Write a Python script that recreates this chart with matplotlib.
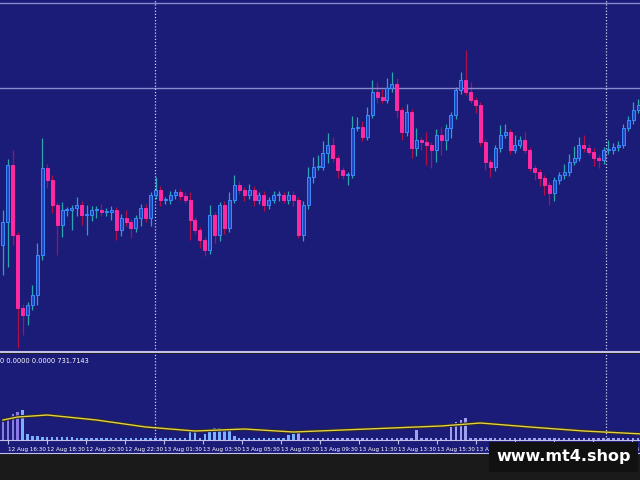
import numpy as np
import matplotlib.pyplot as plt
from matplotlib.patches import Rectangle

# candle data (price units = chart pixels from bottom), open = previous close
first_open = 235
closes = [258, 315, 245, 172, 165, 175, 185, 225, 312, 300, 275, 255, 270, 270, 272, 275, 265,
          265, 270, 270, 268, 268, 270, 250, 262, 258, 252, 262, 272, 262, 285, 290, 280, 280,
          285, 288, 284, 280, 260, 250, 240, 230, 265, 245, 275, 252, 280, 295, 290, 285, 290,
          280, 285, 275, 280, 285, 285, 280, 285, 280, 245, 275, 303, 313, 313, 327, 335, 322,
          310, 305, 305, 352, 353, 343, 365, 388, 383, 380, 392, 396, 370, 348, 368, 332, 340,
          338, 335, 330, 345, 340, 352, 365, 390, 400, 388, 380, 375, 338, 318, 313, 332, 345,
          348, 330, 335, 340, 330, 312, 308, 302, 295, 287, 300, 305, 308, 318, 322, 335, 332,
          328, 322, 320, 330, 330, 333, 335, 352, 360, 370, 375]
upper = [12, 6, 15, 3, 4, 3, 10, 12, 30, 4, 5, 3, 8, 3, 3, 8, 4, 10, 4, 4, 6, 4, 4, 3, 4, 8, 3,
         3, 4, 4, 3, 13, 4, 3, 4, 3, 3, 4, 8, 3, 3, 3, 10, 3, 3, 4, 8, 10, 4, 3, 6, 4, 3, 4, 3,
         4, 4, 3, 4, 4, 3, 4, 10, 10, 12, 12, 12, 8, 3, 3, 3, 12, 10, 6, 8, 12, 10, 8, 10, 12, 6,
         3, 8, 3, 12, 3, 10, 3, 6, 8, 4, 3, 3, 8, 30, 10, 3, 3, 3, 3, 3, 10, 8, 3, 10, 4, 8, 3,
         3, 3, 3, 3, 3, 3, 8, 8, 12, 8, 10, 4, 4, 3, 3, 10, 4, 4, 4, 4, 8, 6, 6, 6]
lower = [30, 45, 10, 40, 20, 10, 5, 10, 5, 8, 8, 30, 12, 6, 20, 8, 10, 20, 6, 8, 4, 4, 8, 10,
         6, 4, 10, 4, 8, 4, 8, 4, 6, 4, 4, 4, 4, 3, 20, 4, 8, 6, 4, 8, 6, 6, 4, 3, 4, 6, 4, 6, 4,
         6, 4, 3, 6, 3, 4, 6, 3, 6, 4, 6, 3, 3, 10, 4, 8, 4, 10, 3, 3, 4, 3, 3, 6, 3, 3, 4, 8, 8,
         4, 10, 8, 8, 20, 18, 12, 15, 10, 10, 4, 4, 3, 3, 8, 4, 8, 10, 4, 4, 3, 4, 3, 3, 3, 3, 8,
         8, 10, 12, 8, 4, 4, 4, 3, 3, 4, 3, 8, 8, 4, 4, 4, 4, 3, 3, 4, 3, 3]
volume = [18, 22, 26, 28, 30, 6, 4, 4, 3, 3, 3, 3, 3, 3, 3, 2, 2, 2, 2, 2, 2, 2, 2, 2, 2, 2, 2,
          2, 2, 2, 2, 2, 2, 2, 2, 2, 2, 2, 8, 8, 2, 6, 10, 12, 12, 10, 10, 4, 2, 2, 2, 2, 2, 2,
          2, 2, 2, 2, 5, 6, 9, 2, 2, 2, 2, 2, 2, 2, 2, 2, 2, 2, 2, 2, 2, 2, 2, 2, 2, 2, 2, 2, 2,
          2, 10, 2, 2, 2, 2, 2, 2, 14, 18, 20, 22, 2, 2, 2, 2, 2, 2, 2, 2, 2, 2, 2, 2, 2, 2, 2, 2,
          2, 2, 2, 2, 2, 2, 2, 2, 2, 2, 2, 2, 2, 2, 2, 2, 2, 2, 2, 2, 2, 2, 2, 2]
ma_idx = [0, 3, 9, 19, 29, 39, 49, 59, 69, 79, 89, 97, 107, 118, 130]
ma_val = [20, 23, 25, 20, 13, 9, 11, 8, 10, 12, 14, 17, 13, 9, 6]
tick_labels = ["12 Aug 16:30", "12 Aug 18:30", "12 Aug 20:30", "12 Aug 22:30", "13 Aug 01:30",
               "13 Aug 03:30", "13 Aug 05:30", "13 Aug 07:30", "13 Aug 09:30", "13 Aug 11:30",
               "13 Aug 13:30", "13 Aug 15:30", "13 Aug 17:30", "13 Aug 19:30", "13 Aug 21:30",
               "13 Aug 23:30", "14"]

BG = "#1b1b78"
n = min(len(closes), len(upper), len(lower), len(volume))
opens = [first_open] + closes[:-1]
N = n
px = N / 640  # candle slots per pixel
tick_idx = [-0.6 + (8 + 39 * k) * px for k in range(len(tick_labels))]
vlines = [-0.6 + 155 * px, -0.6 + 606 * px]

fig = plt.figure(figsize=(6.4, 4.8), dpi=100, facecolor="#1a1a1a")
ax = fig.add_axes([0, 128 / 480, 1, 352 / 480])
ax.set_facecolor(BG)
for i in range(n):
    o, c = opens[i], closes[i]
    hi, lo = max(o, c) + upper[i], min(o, c) - lower[i]
    up = c >= o
    ax.vlines(i, lo, hi, color="#2aa6b0" if up else "#b0104a", lw=0.9)
    h = max(abs(c - o), 1.2)
    ax.add_patch(Rectangle((i - 0.3, min(o, c)), 0.6, h,
                           facecolor="#2346b8" if up else "#ff2aa0",
                           edgecolor="#3a8cff" if up else "#ff2aa0", lw=0.7, zorder=3))
ax.set_xlim(-0.6, N - 0.6)
ax.set_ylim(128, 480)
ax.axhline(392, color="#8a8ad0", lw=1)
ax.axhline(477, color="#8a8ad0", lw=1)
for xv in vlines:
    ax.axvline(xv, color="#d0d0f0", lw=0.9, ls=(0, (1, 1.5)))
ax.set_xticks([]); ax.set_yticks([])
for s in ax.spines.values():
    s.set_visible(False)
ax.spines["bottom"].set_visible(True)
ax.spines["bottom"].set_color("#c0c0e8")
ax.spines["bottom"].set_linewidth(1.5)

sub = fig.add_axes([0, 40 / 480, 1, 86 / 480])
sub.set_facecolor(BG)
cols = ["#8a7ae8" if i < 4 else ("#7ab0ff" if i < 60 else "#a0a0f0") for i in range(n)]
sub.bar(range(n), volume[:n], width=0.5, color=cols)
sub.plot(ma_idx, ma_val, color="#2a2a2a", lw=2.5)
sub.plot(ma_idx, ma_val, color="#e8d040", lw=1)
sub.set_xlim(-0.6, N - 0.6)
sub.set_ylim(0, 86)
for xv in vlines:
    sub.axvline(xv, color="#d0d0f0", lw=0.9, ls=(0, (1, 1.5)))
sub.text(0.0, 0.95, "0 0.0000 0.0000 731.7143", transform=sub.transAxes, color="white",
         fontsize=4.8, va="top", ha="left")
sub.set_xticks(tick_idx)
sub.set_xticklabels(tick_labels, fontsize=4.1, color="white", ha="left")
sub.tick_params(axis="x", length=3, color="#c0c0e8", pad=2)
sub.set_yticks([])
for s in sub.spines.values():
    s.set_visible(False)
sub.spines["bottom"].set_visible(True)
sub.spines["bottom"].set_color("#c0c0e8")

strip = fig.add_axes([0, 27 / 480, 1, 13 / 480])
strip.set_facecolor(BG)
strip.set_xticks([]); strip.set_yticks([])
for s in strip.spines.values():
    s.set_visible(False)
strip.spines["bottom"].set_visible(True)
strip.spines["bottom"].set_color("#c0c0e8")
strip.set_zorder(-1)
sub.set_zorder(1)

fig.text(0.881, 23 / 480, "www.mt4.shop", color="white", fontsize=11.5, fontweight="bold",
         ha="center", va="center", zorder=10,
         bbox=dict(boxstyle="square,pad=0.45", facecolor="#111111", edgecolor="none"))
fig.savefig("out.png", dpi=100, facecolor=fig.get_facecolor())
